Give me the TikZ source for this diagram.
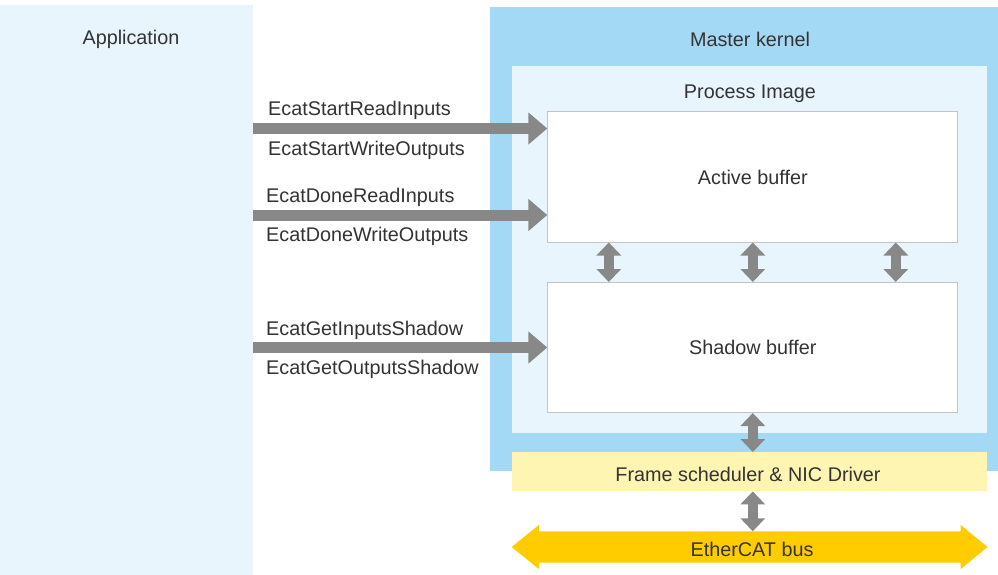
\documentclass[tikz,border=0pt]{standalone}
\usepackage{fontspec}
\setmainfont{Liberation Sans}
\usetikzlibrary{arrows.meta}
\definecolor{paleblue}{HTML}{E8F5FD}
\definecolor{kernelblue}{HTML}{A4D9F5}
\definecolor{fsyellow}{HTML}{FFF5B2}
\definecolor{busyellow}{HTML}{FFCC00}
\definecolor{arrowgrey}{HTML}{888888}
\definecolor{bordergrey}{HTML}{C4C4C4}
\definecolor{txt}{HTML}{333333}
\tikzset{
  panel/.style={rectangle, inner sep=0pt, anchor=north west},
  lbl/.style={text=txt, font=\fontsize{19.8}{22}\selectfont, inner sep=0pt, yshift=-2pt},
  callname/.style={lbl, anchor=west},
  bufbox/.style={rectangle, draw=bordergrey, line width=1pt, fill=white, minimum width=410pt, minimum height=130pt, text=txt, font=\fontsize{19.8}{22}\selectfont, inner sep=0pt},
  bigarrow/.style={draw=arrowgrey, line width=11pt, -{Triangle[length=19pt,width=31pt]}},
  vdarrow/.style={draw=arrowgrey, line width=10pt, {Triangle[length=13pt,width=24pt]}-{Triangle[length=13pt,width=24pt]}},
}
\begin{document}
\begin{tikzpicture}[x=1pt,y=-1pt]
\useasboundingbox (0,0) rectangle (998,575);
% panels
\node[panel, fill=paleblue, minimum width=253pt, minimum height=570pt] (app) at (0,5) {};
\node[panel, fill=kernelblue, minimum width=508pt, minimum height=464pt] (kernel) at (490,7) {};
\node[panel, fill=paleblue, minimum width=475pt, minimum height=367pt] (pimg) at (512,66) {};
\node[panel, fill=fsyellow, minimum width=475pt, minimum height=39pt] (fs) at (512,452) {};
% titles
\node[lbl] (apptitle) at (131,37) {Application};
\node[lbl] (ktitle) at (750,37) {Master kernel};
\node[lbl] (ptitle) at (750,92) {Process Image};
\node[lbl] (fstext) at (748,472) {Frame scheduler \& NIC Driver};
% buffers
\node[bufbox] (active) at (752.8,177) {Active buffer};
\node[bufbox] (shadow) at (752.8,347.5) {Shadow buffer};
% bus
\node[rectangle, inner sep=0pt, minimum width=421pt, minimum height=31pt] (bus) at (749.8,547) {};
\fill[busyellow] (bus.north west) -- ([yshift=6.5pt]bus.north west) -- ([xshift=-27.5pt]bus.west) -- ([yshift=-6.5pt]bus.south west) -- (bus.south west)
  -- (bus.south east) -- ([yshift=-6.5pt]bus.south east) -- ([xshift=27pt]bus.east) -- ([yshift=6.5pt]bus.north east) -- (bus.north east) -- cycle;
\node[lbl] (bustext) at (752,547) {EtherCAT bus};
% calls
\coordinate (s1) at (253,128.5);
\coordinate (s2) at (253,215);
\coordinate (s3) at (253,347.5);
\draw[bigarrow] (s1) -- (s1 -| active.west);
\draw[bigarrow] (s2) -- (s2 -| active.west);
\draw[bigarrow] (s3) -- (shadow.west);
\node[callname] (c1a) at (268,108) {EcatStartReadInputs};
\node[callname] (c1b) at (268,148) {EcatStartWriteOutputs};
\node[callname] (c2a) at (266,195) {EcatDoneReadInputs};
\node[callname] (c2b) at (266,234) {EcatDoneWriteOutputs};
\node[callname] (c3a) at (266,328) {EcatGetInputsShadow};
\node[callname] (c3b) at (266,367) {EcatGetOutputsShadow};
% exchange arrows
\draw[vdarrow] ([xshift=-144pt]active.south) -- ([xshift=-144pt]shadow.north);
\draw[vdarrow] (active.south) -- (shadow.north);
\draw[vdarrow] ([xshift=143pt]active.south) -- ([xshift=143pt]shadow.north);
\draw[vdarrow] (shadow.south) -- (shadow.south |- fs.north);
\draw[vdarrow] (shadow.south |- fs.south) -- (shadow.south |- bus.north);
\end{tikzpicture}
\end{document}
